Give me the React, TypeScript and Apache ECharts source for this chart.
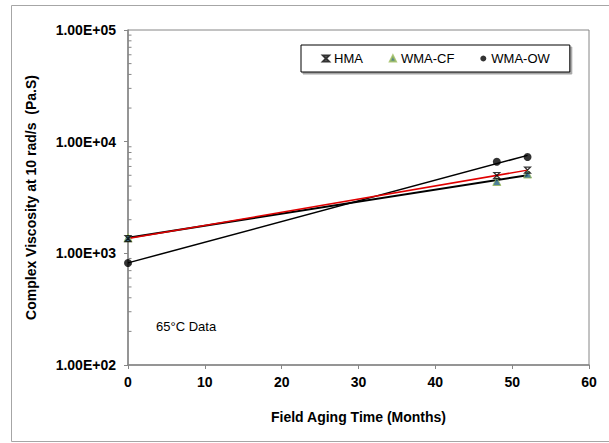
import React, { useEffect, useRef } from "react";
import * as echarts from "echarts";

// Field aging time (months) at which the samples were taken
const months = [0, 48, 52];
// Complex viscosity at 10 rad/s (Pa.S), 65°C data
const hma = [1355, 4980, 5570];
const wmaCF = [1380, 4400, 5130];
const wmaOW = [819, 6600, 7280];
// Range over which the exponential trendlines are drawn
const trendRange = [0, 52];
// Y axis decades (tick labels)
const yDecades = [100, 1000, 10000, 100000];
const xTicks = [0, 10, 20, 30, 40, 50, 60];
const minorMultipliers = [2, 3, 4, 5, 6, 7, 8, 9];

const FONT = "'Liberation Sans', Arial, sans-serif";

// Exponential (log-linear) least-squares fit, like a spreadsheet trendline
function expTrend(xs: number[], ys: number[]): number[][] {
  const ly = ys.map((v) => Math.log10(v));
  const n = xs.length;
  const mx = xs.reduce((a, b) => a + b, 0) / n;
  const my = ly.reduce((a, b) => a + b, 0) / n;
  let sxy = 0;
  let sxx = 0;
  for (let i = 0; i < n; i++) {
    sxy += (xs[i] - mx) * (ly[i] - my);
    sxx += (xs[i] - mx) * (xs[i] - mx);
  }
  const slope = sxy / sxx;
  const icpt = my - slope * mx;
  return trendRange.map((x) => [x, Math.pow(10, icpt + slope * x)]);
}

function fmtExp(v: number): string {
  const e = Math.round(Math.log10(v));
  const m = v / Math.pow(10, e);
  const sign = e < 0 ? "-" : "+";
  return m.toFixed(2) + "E" + sign + String(Math.abs(e)).padStart(2, "0");
}

export default function App() {
  const ref = useRef<HTMLDivElement>(null);
  useEffect(() => {
    if (!ref.current) return;
    const chart = echarts.init(ref.current, null, { renderer: "svg" });
    const pts = (ys: number[]) => months.map((m, i) => [m, ys[i]]);
    const minorVals: number[][] = [];
    yDecades.slice(0, -1).forEach((d) =>
      minorMultipliers.forEach((k) => minorVals.push([xTicks[0], d * k]))
    );
    const axisGray = "#868686";
    chart.setOption({
      animation: false,
      backgroundColor: "#ffffff",
      textStyle: { fontFamily: FONT },
      grid: {
        left: 128,
        right: 20,
        top: 30,
        bottom: 78,
        show: true,
        borderColor: axisGray,
        borderWidth: 1,
        backgroundColor: "transparent",
      },
      legend: {
        data: ["HMA", "WMA-CF", "WMA-OW"],
        left: 301,
        top: 45,
        padding: [7, 20, 7, 21],
        itemGap: 26,
        itemWidth: 6,
        itemHeight: 6,
        borderColor: "#000",
        borderWidth: 1,
        borderRadius: 0,
        backgroundColor: "#fff",
        shadowColor: "rgba(0,0,0,0.35)",
        shadowBlur: 1,
        shadowOffsetX: 2,
        shadowOffsetY: 2,
        textStyle: { fontSize: 13, color: "#000", fontFamily: FONT },
      },
      xAxis: {
        type: "value",
        min: xTicks[0],
        max: xTicks[xTicks.length - 1],
        interval: 10,
        name: "Field Aging Time (Months)",
        nameLocation: "middle",
        nameGap: 45,
        nameTextStyle: { fontSize: 14, fontWeight: "bold", color: "#000", fontFamily: FONT },
        axisLine: { lineStyle: { color: axisGray, width: 1.5 } },
        axisTick: { show: true, length: 4, lineStyle: { color: axisGray } },
        axisLabel: { fontSize: 14, fontWeight: "bold", color: "#000", margin: 10, fontFamily: FONT },
        splitLine: { show: false },
      },
      yAxis: {
        type: "log",
        logBase: 10,
        min: yDecades[0],
        max: yDecades[yDecades.length - 1],
        splitNumber: 3,
        name: "Complex Viscosity at 10 rad/s  (Pa.S)",
        nameLocation: "middle",
        nameGap: 90,
        nameTextStyle: { fontSize: 14, fontWeight: "bold", color: "#000", fontFamily: FONT },
        axisLine: { show: true, lineStyle: { color: axisGray, width: 1.5 } },
        axisTick: { show: true, length: 4, lineStyle: { color: axisGray } },
        axisLabel: {
          fontSize: 14,
          fontWeight: "bold",
          color: "#000",
          margin: 12,
          fontFamily: FONT,
          formatter: (v: number) => fmtExp(v),
        },
        splitLine: { show: false },
      },
      graphic: [
        {
          type: "rect",
          shape: { x: 11.5, y: 5.5, width: 640, height: 436 },
          style: { fill: "none", stroke: "#a6a6a6", lineWidth: 1 },
          z: -10,
          silent: true,
        },
        {
          type: "text",
          left: 156,
          top: 320,
          style: { text: "65°C Data", fontSize: 13, fill: "#000", fontFamily: FONT },
          silent: true,
        },
      ],
      series: [
        {
          name: "minor ticks",
          type: "custom",
          data: minorVals,
          clip: false,
          silent: true,
          z: 1,
          renderItem: (_params: any, api: any) => {
            const p = api.coord([api.value(0), api.value(1)]);
            return {
              type: "line",
              shape: { x1: p[0], y1: p[1], x2: p[0] + 3.5, y2: p[1] },
              style: { stroke: axisGray, lineWidth: 1 },
            };
          },
        },
        {
          name: "HMA trend",
          type: "line",
          data: expTrend(months, hma),
          symbol: "none",
          lineStyle: { color: "#e00000", width: 1.5 },
          z: 3,
          silent: true,
        },
        {
          name: "WMA-CF trend",
          type: "line",
          data: expTrend(months, wmaCF),
          symbol: "none",
          lineStyle: { color: "#000", width: 2 },
          z: 2,
          silent: true,
        },
        {
          name: "WMA-OW trend",
          type: "line",
          data: expTrend(months, wmaOW),
          symbol: "none",
          lineStyle: { color: "#000", width: 1.5 },
          z: 2,
          silent: true,
        },
        {
          name: "HMA",
          type: "scatter",
          data: pts(hma),
          symbol: "path://M0,0L10,0L0,10L10,10Z",
          symbolSize: 6,
          itemStyle: { color: "rgba(0,0,0,0)", borderColor: "#000", borderWidth: 1.2 },
          z: 5,
        },
        {
          name: "WMA-CF",
          type: "scatter",
          data: pts(wmaCF),
          symbol: "triangle",
          symbolSize: 8,
          itemStyle: { color: "#1F5F7F", borderColor: "#9BBB59", borderWidth: 1 },
          z: 4,
        },
        {
          name: "WMA-OW",
          type: "scatter",
          data: pts(wmaOW),
          symbol: "circle",
          symbolSize: 8,
          itemStyle: { color: "#000" },
          z: 4,
        },
      ],
    });
    return () => chart.dispose();
  }, []);
  return (
    <div
      ref={ref}
      style={{ position: "fixed", left: 0, top: 0, width: 609, height: 443, background: "#fff" }}
    />
  );
}
